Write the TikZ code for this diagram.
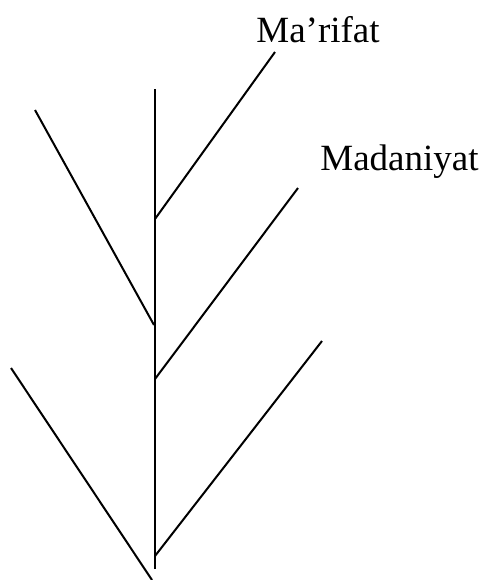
\documentclass[tikz,border=0pt]{standalone}
\usepackage{fontspec}
\setmainfont{Liberation Serif}
\usetikzlibrary{positioning}
\tikzset{
  % Trunk and branches
  trunk/.style={line width=1.3pt, black},
  twig/.style={line width=1pt, black},
  % Labels
  leaflabel/.style={font=\fontsize{18.5}{20}\selectfont, inner sep=0pt, anchor=base west},
}
\begin{document}
\begin{tikzpicture}[x=0.5pt, y=-0.5pt]
  \useasboundingbox (0,0) rectangle (483,580);
  % trunk
  \coordinate (top) at (155,89);
  \coordinate (root) at (155,569);
  \coordinate (j1) at (155,219);
  \coordinate (j2) at (154,325);
  \coordinate (j3) at (155,379);
  \coordinate (j4) at (155,556);
  \coordinate (j5) at (152,580);
  % branch tips
  \coordinate (t1) at (275,52);
  \coordinate (t2) at (35,110);
  \coordinate (t3) at (298,188);
  \coordinate (t4) at (322,341);
  \coordinate (t5) at (11,368);
  \node[leaflabel] (marifat) at (256,42) {Ma’rifat};
  \node[leaflabel] (madaniyat) at (320,170) {Madaniyat};
  \draw[trunk] (root) -- (top);
  \draw[twig] (j1) -- (t1);
  \draw[twig] (j2) -- (t2);
  \draw[twig] (j3) -- (t3);
  \draw[twig] (j4) -- (t4);
  \draw[twig] (j5) -- (t5);
\end{tikzpicture}
\end{document}
